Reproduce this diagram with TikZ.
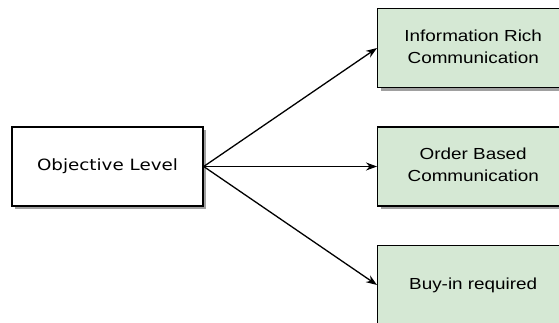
\documentclass[tikz,border=0pt]{standalone}
\usepackage{fontspec}
\usetikzlibrary{arrows.meta,shadows}
\newfontfamily\leftfont{DejaVu Sans}
\newfontfamily\rightfont{Liberation Sans}
\definecolor{boxgreen}{HTML}{D5E8D4}
\definecolor{shadowgray}{HTML}{A0A0A0}
% wide-set label text
\newcommand{\widetext}[1]{\scalebox{1.18}[1]{\begin{tabular}{@{}c@{}}#1\end{tabular}}}
\tikzset{
  basebox/.style={draw=black, line width=1.4pt, minimum width=191pt, minimum height=79pt,
    inner sep=0pt, align=center,
    drop shadow={shadow xshift=3pt, shadow yshift=-3pt, fill=shadowgray, opacity=1}},
  srcbox/.style={basebox, fill=white, font=\leftfont\fontsize{15.5}{20}\selectfont},
  dstbox/.style={basebox, fill=boxgreen, font=\rightfont\fontsize{16}{22}\selectfont},
  link/.style={draw=black, line width=1.3pt, -{Stealth[length=11pt,width=8pt]}}
}
\begin{document}
\begin{tikzpicture}[x=1pt,y=1pt]
  \useasboundingbox (0,0) rectangle (559,322);
  \clip (0,0) rectangle (559,322);
  % source box
  \node[srcbox] (obj) at (107.5,155.5) {\widetext{Objective Level}};
  % target boxes (extend past the right edge)
  \node[dstbox, anchor=west] (info) at (377,274) {\widetext{Information Rich\\Communication}};
  \node[dstbox, anchor=west] (order) at (377,155.5) {\widetext{Order Based\\Communication}};
  \node[dstbox, anchor=west] (buyin) at (377,37) {\widetext{Buy-in required}};
  % connectors
  \draw[link] (obj.east) -- (info.west);
  \draw[link] (obj.east) -- (order.west);
  \draw[link] (obj.east) -- (buyin.west);
\end{tikzpicture}
\end{document}
